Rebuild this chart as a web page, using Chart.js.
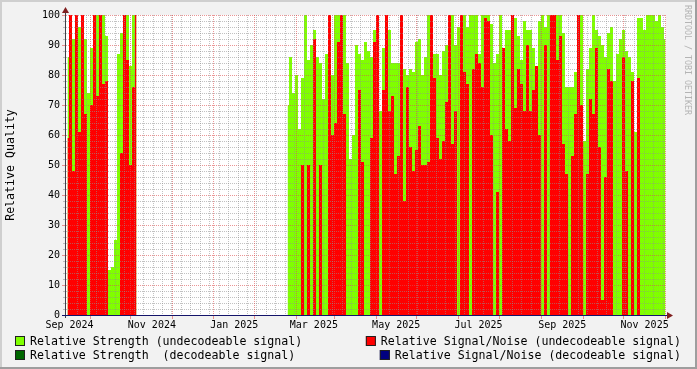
<!DOCTYPE html>
<html>
<head>
<meta charset="utf-8">
<title>Relative Quality</title>
<script src="https://cdn.jsdelivr.net/npm/chart.js@4.4.1/dist/chart.umd.min.js"></script>
<style>
  html, body { margin: 0; padding: 0; background: #f2f2f2; }
  canvas { display: block; }
</style>
</head>
<body>
<canvas id="QualityChart" width="697" height="369"></canvas>
<script>
// x values are days counted from 1 Sep 2024, one bin every stepDays
const stepDays = 2.222;
const firstStartDay = -1.5;   // first block, Sep - Oct 2024
const secondStartDay = 161.5; // second block, Feb - Nov 2025

// Relative strength / signal-noise for undecodeable signals (percent)
const strengthFirst = [86, 95, 92, 96, 96, 100, 92, 74, 89, 100, 100, 100, 100, 93, 15, 16, 25, 87, 94, 100, 100, 83, 100, 100];
const snrFirst = [59, 100, 48, 100, 61, 100, 67, 0, 70, 100, 73, 100, 77, 78, 0, 0, 0, 0, 54, 100, 85, 50, 76, 100];

const strengthSecond = [
  70, 86, 74, 80, 62, 79, 100, 85, 90, 95, 86, 84, 72, 87, 100, 80, 100, 100, 100, 100,
  84, 52, 60, 90, 87, 85, 91, 88, 86, 95, 100, 68, 89, 100, 95, 84, 84, 84, 95, 82,
  80, 82, 81, 91, 92, 80, 86, 100, 100, 87, 87, 80, 88, 90, 100, 100, 90, 96, 100, 100,
  96, 100, 100, 100, 87, 100, 100, 100, 97, 84, 87, 100, 89, 95, 95, 95, 99, 93, 85, 98,
  95, 95, 89, 83, 98, 100, 96, 100, 100, 100, 100, 100, 94, 76, 76, 76, 81, 100, 100, 58,
  82, 89, 100, 95, 93, 90, 86, 94, 96, 78, 87, 92, 95, 88, 86, 81, 61, 99, 99, 95,
  100, 100, 100, 98, 100, 96, 92
];
const snrSecond = [
  0, 0, 0, 0, 0, 50, 0, 50, 0, 92, 0, 50, 0, 0, 100, 60, 64, 91, 100, 67,
  0, 0, 0, 0, 75, 51, 0, 0, 59, 91, 100, 0, 75, 100, 68, 73, 47, 53, 100, 38,
  76, 56, 48, 55, 63, 50, 50, 51, 100, 79, 59, 52, 58, 71, 100, 57, 68, 0, 100, 81,
  77, 0, 82, 87, 84, 76, 99, 98, 60, 0, 41, 0, 89, 62, 58, 100, 69, 82, 77, 68,
  90, 68, 75, 83, 60, 0, 90, 0, 100, 100, 85, 93, 57, 47, 0, 53, 67, 100, 70, 0,
  47, 72, 67, 89, 56, 5, 46, 82, 78, 0, 0, 0, 86, 48, 0, 78, 0, 79, 0, 0,
  0, 0, 0, 0, 0, 0, 0
];

// decodeable signals never show up in this period
const strengthDecodeable = [];
const snrDecodeable = [];

const monthLabels = ['Sep 2024', 'Nov 2024', 'Jan 2025', 'Mar 2025', 'May 2025', 'Jul 2025', 'Sep 2025', 'Nov 2025'];
const monthDays = [0, 61, 122, 181, 242, 303, 365, 426];
const majorGridDays = [15, 45, 76, 106, 137, 168, 196, 227, 257, 288, 318, 349, 380, 410, 441];
const minorGridStart = 5.5;

const legendLabels = [
  'Relative Strength (undecodeable signal)',
  'Relative Signal/Noise (undecodeable signal)',
  'Relative Strength  (decodeable signal)',
  'Relative Signal/Noise (decodeable signal)'
];
const legendColors = ['#80ff00', '#ff0000', '#006600', '#000080'];

const MONO = '"DejaVu Sans Mono", "Liberation Mono", monospace';

function toPoints(start, values) {
  return values.map((v, i) => ({ x: start + i * stepDays, y: v }));
}

function joinBlocks(first, second) {
  // a null between the two blocks keeps the empty winter gap open
  return [...toPoints(firstStartDay, first), { x: 100, y: null }, ...toPoints(secondStartDay, second)];
}

function dashedLine(ctx, x1, y1, x2, y2, color) {
  ctx.strokeStyle = color;
  ctx.beginPath();
  ctx.moveTo(x1, y1);
  ctx.lineTo(x2, y2);
  ctx.stroke();
}

// rrdtool look: frame, canvas, grid over the data, arrows, legend
const rrdStyle = {
  id: 'rrdStyle',
  beforeDraw(chart) {
    const { ctx, chartArea: a, width, height } = chart;
    ctx.save();
    ctx.fillStyle = '#f2f2f2';
    ctx.fillRect(0, 0, width, height);
    ctx.fillStyle = '#cfcfcf';
    ctx.fillRect(0, 0, width, 2);
    ctx.fillRect(0, 0, 2, height);
    ctx.fillStyle = '#9e9e9e';
    ctx.fillRect(0, height - 2, width, 2);
    ctx.fillRect(width - 2, 0, 2, height);
    ctx.fillStyle = '#ffffff';
    ctx.fillRect(a.left, a.top, a.right - a.left, a.bottom - a.top);
    ctx.restore();
  },
  afterDatasetsDraw(chart) {
    const { ctx, chartArea: a } = chart;
    const xs = chart.scales.x;
    const ys = chart.scales.y;
    const minor = 'rgba(143,143,143,0.55)';
    const major = 'rgba(222,79,79,0.6)';
    ctx.save();
    ctx.lineWidth = 1;
    ctx.setLineDash([1, 1]);

    // horizontal grid, every 2 units, red every 10
    for (let v = 2; v <= 100; v += 2) {
      const y = Math.round(ys.getPixelForValue(v)) + 0.5;
      const col = v % 10 === 0 ? major : minor;
      dashedLine(ctx, a.left, y, a.right, y, col);
    }
    // vertical grid, weekly minor lines and the major lines
    for (let d = minorGridStart; d < xs.max; d += 7) {
      const x = Math.round(xs.getPixelForValue(d)) + 0.5;
      if (x > a.left && x < a.right) dashedLine(ctx, x, a.top, x, a.bottom, minor);
    }
    majorGridDays.forEach((d) => {
      const x = Math.round(xs.getPixelForValue(d)) + 0.5;
      if (x > a.left && x < a.right) dashedLine(ctx, x, a.top, x, a.bottom, major);
    });

    // small tick marks outside the axes
    ctx.setLineDash([]);
    for (let v = 0; v <= 100; v += 2) {
      const y = Math.round(ys.getPixelForValue(v)) + 0.5;
      const len = v % 10 === 0 ? 3 : 2;
      dashedLine(ctx, a.left - 1 - len, y, a.left - 1, y, v % 10 === 0 ? major : minor);
    }
    majorGridDays.forEach((d) => {
      const x = Math.round(xs.getPixelForValue(d)) + 0.5;
      if (x < a.right) dashedLine(ctx, x, a.bottom + 1, x, a.bottom + 4, major);
    });

    // axes
    dashedLine(ctx, a.left - 0.5, a.bottom + 3, a.left - 0.5, a.top - 4, '#404048');
    dashedLine(ctx, a.left - 4, a.bottom + 0.5, a.right + 2, a.bottom + 0.5, '#14146a');

    // arrows
    ctx.fillStyle = '#801f1f';
    ctx.beginPath();
    ctx.moveTo(a.left - 4, a.top - 2);
    ctx.lineTo(a.left + 3, a.top - 2);
    ctx.lineTo(a.left - 0.5, a.top - 8);
    ctx.closePath();
    ctx.fill();
    ctx.beginPath();
    ctx.moveTo(a.right + 1, a.bottom - 3);
    ctx.lineTo(a.right + 1, a.bottom + 4);
    ctx.lineTo(a.right + 7, a.bottom + 0.5);
    ctx.closePath();
    ctx.fill();
    ctx.restore();
  },
  afterDraw(chart) {
    const { ctx, chartArea: a, width } = chart;
    ctx.save();

    // y axis title
    ctx.fillStyle = '#000000';
    ctx.font = '11.6px ' + MONO;
    ctx.textAlign = 'center';
    ctx.textBaseline = 'middle';
    ctx.translate(11, (a.top + a.bottom) / 2);
    ctx.rotate(-Math.PI / 2);
    ctx.fillText('Relative Quality', 0, 0);
    ctx.setTransform(1, 0, 0, 1, 0, 0);

    // watermark on the right edge
    ctx.fillStyle = '#b4b4b4';
    ctx.font = '8.3px ' + MONO;
    ctx.textAlign = 'left';
    ctx.translate(width - 10, 5);
    ctx.rotate(Math.PI / 2);
    ctx.fillText('RRDTOOL / TOBI OETIKER', 0, 0);
    ctx.setTransform(1, 0, 0, 1, 0, 0);

    // legend, two columns, right column flush right
    ctx.font = '11.6px ' + MONO;
    ctx.textBaseline = 'middle';
    const rows = [341, 355];
    legendLabels.forEach((label, i) => {
      const y = rows[Math.floor(i / 2)];
      let tx = 30;
      if (i % 2 === 1) tx = 681 - ctx.measureText(label).width;
      const bx = tx - 15;
      ctx.fillStyle = legendColors[i];
      ctx.fillRect(bx, y - 5, 10, 10);
      ctx.strokeStyle = '#202020';
      ctx.lineWidth = 1;
      ctx.strokeRect(bx + 0.5, y - 4.5, 9, 9);
      ctx.fillStyle = '#000000';
      ctx.textAlign = 'left';
      ctx.fillText(label, tx, y + 0.5);
    });
    ctx.restore();
  }
};

const ctx = document.getElementById('QualityChart').getContext('2d');

const chartData = {
  datasets: [
    {
      label: legendLabels[0],
      data: joinBlocks(strengthFirst, strengthSecond),
      backgroundColor: legendColors[0],
      order: 2
    },
    {
      label: legendLabels[1],
      data: joinBlocks(snrFirst, snrSecond),
      backgroundColor: legendColors[1],
      order: 1
    },
    {
      label: legendLabels[2],
      data: toPoints(secondStartDay, strengthDecodeable),
      backgroundColor: legendColors[2],
      order: 4
    },
    {
      label: legendLabels[3],
      data: toPoints(secondStartDay, snrDecodeable),
      backgroundColor: legendColors[3],
      order: 3
    }
  ].map((ds) => ({
    ...ds,
    fill: 'origin',
    stepped: 'middle',
    spanGaps: false,
    borderWidth: 0,
    borderColor: 'rgba(0,0,0,0)',
    pointRadius: 0
  }))
};

new Chart(ctx, {
  type: 'line',
  data: chartData,
  options: {
    responsive: false,
    animation: false,
    devicePixelRatio: 1,
    layout: { padding: { left: 0, top: 15, right: 31, bottom: 0 } },
    plugins: {
      legend: { display: false },
      tooltip: { enabled: false },
      title: { display: false }
    },
    scales: {
      x: {
        type: 'linear',
        min: -2.6,
        max: 441.85,
        grid: { display: false, drawTicks: false },
        border: { display: false },
        afterBuildTicks: (scale) => {
          scale.ticks = monthDays.map((d) => ({ value: d }));
        },
        afterFit: (scale) => {
          scale.height = 54;
        },
        ticks: {
          autoSkip: false,
          maxRotation: 0,
          minRotation: 0,
          padding: 4,
          color: '#000000',
          font: { family: MONO, size: 10 },
          callback: (value, index) => monthLabels[index]
        }
      },
      y: {
        min: 0,
        max: 100,
        grid: { display: false, drawTicks: false },
        border: { display: false },
        afterFit: (scale) => {
          scale.width = 66;
        },
        ticks: {
          stepSize: 10,
          padding: 6,
          color: '#000000',
          font: { family: MONO, size: 10 }
        }
      }
    }
  },
  plugins: [rrdStyle]
});
</script>
</body>
</html>
